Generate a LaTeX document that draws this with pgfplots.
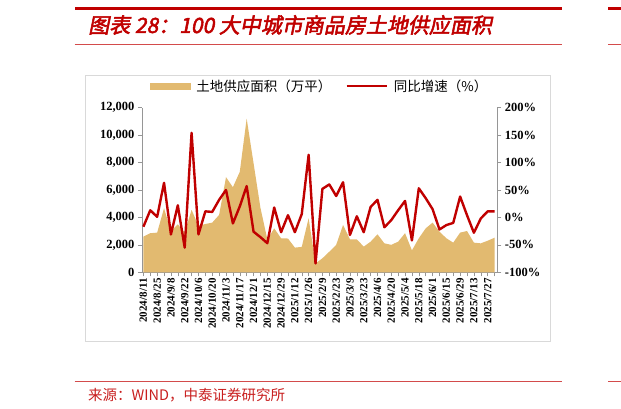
\documentclass[border=0pt]{standalone}
\usepackage{fontspec}
\usepackage{pgfplots}
\pgfplotsset{compat=1.18}
\usepackage{pgfplotstable}
\setmainfont{Liberation Serif}
\newfontfamily\cjk{Noto Sans CJK SC}
\newfontfamily\titlefont[FakeSlant=0.2,FakeBold=2.5]{Noto Sans CJK SC}
\definecolor{zred}{RGB}{192,0,0}
\definecolor{tred}{RGB}{200,30,30}
\definecolor{areacol}{RGB}{226,186,112}
\definecolor{axgray}{RGB}{150,150,150}

\pgfplotstableread{
x y
0 2600
1 2850
2 2890
3 4670
4 3000
5 3500
6 2900
7 4550
8 3380
9 3520
10 3620
11 4180
12 6930
13 6200
14 7320
15 11200
16 7950
17 4700
18 2400
19 3200
20 2480
21 2460
22 1800
23 1850
24 3940
25 650
26 1020
27 1500
28 2000
29 3450
30 2400
31 2400
32 1870
33 2230
34 2770
35 2110
36 2000
37 2230
38 2850
39 1600
40 2480
41 3200
42 3620
43 2960
44 2480
45 2160
46 2890
47 3010
48 2160
49 2110
50 2300
51 2520
}\areatable

\pgfplotstableread{
x y
0 -17
1 13
2 1
3 63
4 -31
5 22
6 -55
7 154
8 -31
9 11
10 10
11 32
12 50
13 -11
14 20
15 57
16 -26
17 -36
18 -47
19 18
20 -27
21 4
22 -27
23 6
24 114
25 -84
26 52
27 60
28 39
29 64
30 -32
31 2
32 -27
33 19
34 32
35 -18
36 -5
37 13
38 30
39 -42
40 53
41 35
42 15
43 -22
44 -14
45 -10
46 38
47 4
48 -28
49 -2
50 11
51 11
}\linetable

\begin{document}
\begin{tikzpicture}[x=1pt,y=1pt]
\useasboundingbox (0,0) rectangle (621,409);
% header
\fill[zred] (74.5,398.8) rectangle (561.6,401.8);
\fill[zred] (608,398.8) rectangle (621,401.8);
\draw[tred!80,line width=0.8pt] (74.5,365) -- (561.6,365);
\draw[tred!80,line width=0.8pt] (608,365) -- (621,365);
\node[anchor=west,text=zred,inner sep=0pt] at (88,384) {\titlefont\fontsize{21}{21}\selectfont 图表 28：100 大中城市商品房土地供应面积};
% frame
\draw[gray!30,line width=0.6pt] (85,68) rectangle (550,334);

\begin{axis}[
  at={(142pt,136.7pt)}, anchor=south west, scale only axis,
  width=355.3pt, height=164.7pt,
  xmin=-0.2, xmax=51.4, ymin=0, ymax=12000,
  scaled y ticks=false,
  axis y line*=left, axis x line*=bottom,
  axis line style={axgray,line width=0.8pt},
  tick style={axgray,line width=0.6pt},
  tick align=outside, major tick length=4pt,
  ytick={0,2000,4000,6000,8000,10000,12000},
  yticklabels={0,{2,000},{4,000},{6,000},{8,000},{10,000},{12,000}},
  y tick label style={font=\bfseries\fontsize{12.5}{12.5}\selectfont},
  xtick={0,...,51},
  major x tick style={axgray,line width=0.5pt},
  xticklabels={2024/8/11,,2024/8/25,,2024/9/8,,2024/9/22,,2024/10/6,,2024/10/20,,2024/11/3,,2024/11/17,,2024/12/1,,2024/12/15,,2024/12/29,,2025/1/12,,2025/1/26,,2025/2/9,,2025/2/23,,2025/3/9,,2025/3/23,,2025/4/6,,2025/4/20,,2025/5/4,,2025/5/18,,2025/6/1,,2025/6/15,,2025/6/29,,2025/7/13,,2025/7/27,},
  x tick label style={rotate=90,anchor=east,font=\bfseries\fontsize{11}{11}\selectfont,inner sep=2pt},
]
\addplot[fill=areacol,draw=none] table[x=x,y=y] {\areatable} \closedcycle;
\end{axis}

\begin{axis}[
  at={(142pt,136.7pt)}, anchor=south west, scale only axis,
  width=355.3pt, height=164.7pt,
  xmin=-0.2, xmax=51.4, ymin=-100, ymax=200,
  axis y line*=right, axis x line=none,
  axis line style={axgray,line width=0.8pt},
  tick style={axgray,line width=0.6pt},
  tick align=outside, major tick length=4pt,
  ytick={-100,-50,0,50,100,150,200},
  yticklabels={-100\%,-50\%,0\%,50\%,100\%,150\%,200\%},
  y tick label style={font=\bfseries\fontsize{12.5}{12.5}\selectfont},
  legend columns=2,
  legend style={at={(axis description cs:0.5,1.131)},anchor=center,draw=none,fill=none,
    font=\cjk\fontsize{13.5}{13.5}\selectfont,
    /tikz/every odd column/.append style={column sep=4pt},
    /tikz/every even column/.append style={column sep=12pt}},
]
\addlegendimage{legend image code/.code={\fill[areacol] (0pt,-3pt) rectangle (40pt,3pt);}}
\addlegendentry{土地供应面积（万平）}
\addplot[zred,line width=2.4pt,line join=round,
  legend image code/.code={\draw[zred,line width=2.4pt] (0pt,0pt) -- (40pt,0pt);}]
  table[x=x,y=y] {\linetable};
\addlegendentry{同比增速（\%）}
\end{axis}

% source
\draw[tred!80,line width=1pt] (74.5,27.2) -- (561.6,27.2);
\draw[tred!80,line width=1pt] (608,27.2) -- (621,27.2);
\node[anchor=west,text=tred,inner sep=0pt] at (88,13.4) {\cjk\fontsize{14.5}{14.5}\selectfont 来源：WIND，中泰证券研究所};
\end{tikzpicture}
\end{document}
